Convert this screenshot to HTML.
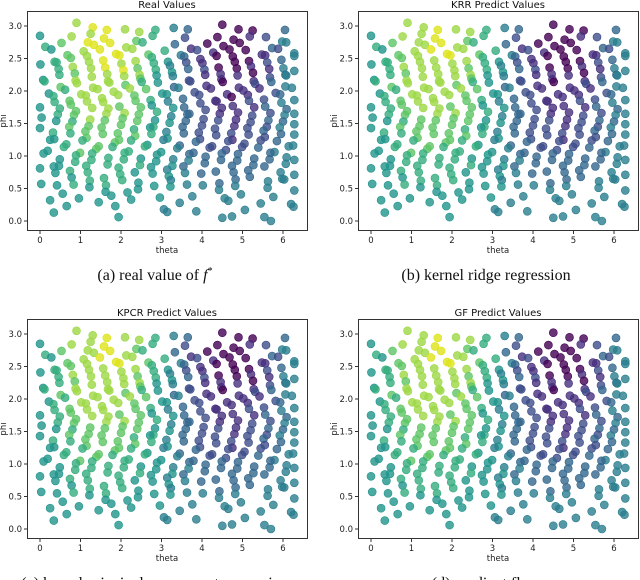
<!DOCTYPE html>
<html><head><meta charset="utf-8">
<style>
html,body{margin:0;padding:0;background:#fff;}
svg{display:block;}
.tk{font-family:"DejaVu Sans","Liberation Sans",sans-serif;font-size:8.5px;fill:#222;}
.tt{font-family:"DejaVu Sans","Liberation Sans",sans-serif;font-size:10px;fill:#111;}
.cap{font-family:"Liberation Serif",serif;font-size:16px;fill:#111;}
</style></head>
<body>
<svg id="fig" width="640" height="580" viewBox="0 0 640 580" xmlns="http://www.w3.org/2000/svg"></svg>
<script>
// base theta sets for rows
const thetaSet1 = [0.1,0.5,0.9,1.3,1.7,2.1,2.5,2.9,3.3,3.7,4.1,4.5,4.9,5.3,5.7,6.1];
const thetaSet2 = [0.3,0.7,1.1,1.5,1.9,2.3,2.7,3.1,3.5,3.9,4.3,4.7,5.1,5.5,5.9,6.25];
// per-column phi offsets
const phiOffset = [0.03,-0.04,0.05,-0.02,0.04,-0.05,0.01,0.04,-0.03,0.05,-0.04,0.02,-0.05,0.03,-0.01,0.04];
// rows: phi value, which theta set, theta shift
const rowPhi   = [3.0,2.9,2.8,2.7,2.6,2.5,2.4,2.3,2.2,2.1,2.0,1.9,1.8,1.7,1.6,1.5,1.4,1.3,1.2,1.1,1.0,0.9,0.8,0.7,0.6,0.5,0.4,0.3,0.2,0.1,0.0];
const rowSet   = [1,2,1,2,1,2,1,2,1,2,1,2,1,2,1,2,1,2,1,2,1,2,1,2,1,2,1,2,1,2,1];
const rowShift = [0,0.15,-0.12,-0.17,0.18,0.06,-0.09,0.16,-0.02,-0.19,0.12,0.03,-0.14,0.19,-0.06,0.1,-0.18,0.05,0.15,-0.11,-0.01,0.17,-0.16,0.08,-0.07,0.12,0.06,-0.05,0.16,0.04,0];
// color level (0-9) per point, '.' = no point
const realVals = [
"..89.8..4..00...","..89.86.3...0.3.","5.899.76.2.00124","67.9986.31000.34",
"5789987642100124","6789986531000134","5688987642100124","6788986532100134",
"5688887542111124","6788876532101234","5688887542111124","6788876532101234",
"5678877543211234","6788876532111234","5678877543211234","5677776532212234",
"5677776543222234","5677776532212234","5667765433222234","5677666543222344",
"5566665543333334","5666665543333344","5566.65543.33334","55666.5543.33.44",
"5.66665.44.33.44","5.55.555.444.4.4",".55.55.5.4.44.4.","5..5.5..4..4.4.4",
".5..5..4.4..4..4","5...5..4...4.4..","...........4..4."];
const krrVals = [
"..88.8..4..00...","..89.86.3...0.3.","5.889.76.2.00124","67.8986.31000.34",
"5789987642100124","6788986531000134","5688887642100124","6788886532100134",
"5688887542111124","6788876532101234","5688887542111124","6788876532111234",
"5678877543211234","6788876532111234","5677877543211234","5677776532212234",
"5677776543222234","5677776532212234","5667765433222234","5677666543222344",
"5566665543333334","5666665543333344","5566.65543.33334","55666.5543.33.44",
"5.66665.44.33.44","5.55.555.444.4.4",".55.55.5.4.44.4.","5..5.5..4..4.4.4",
".5..5..4.4..4..4","5...5..4...4.4..","...........4..4."];
const kpcrVals = krrVals.slice();
const gfVals = krrVals.slice();
const xTicks = [0,1,2,3,4,5,6];
const yTicks = [0.0,0.5,1.0,1.5,2.0,2.5,3.0];
const titles = ["Real Values","KRR Predict Values","KPCR Predict Values","GF Predict Values"];
const captions = ["(a)  real value of ","(b)  kernel ridge regression","(c)  kernel principal component regression","(d)  gradient flow"];

const viridis = ["#440154","#462f7e","#3d4d8a","#33668d","#2a7e8e","#20958b","#35ad7e","#5ec565","#9dd845","#dde318"];
const NS="http://www.w3.org/2000/svg";
const svg=document.getElementById('fig');
function mk(tag,attrs,parent){const e=document.createElementNS(NS,tag);for(const k in attrs)e.setAttribute(k,attrs[k]);parent.appendChild(e);return e;}
const xScale=t=>40+t*40.5;
const yScale=p=>221-p*65;
const panels=[{dx:0,dy:0,vals:realVals,name:'real'},{dx:331,dy:0,vals:krrVals,name:'krr'},{dx:0,dy:308,vals:kpcrVals,name:'kpcr'},{dx:331,dy:308,vals:gfVals,name:'gf'}];
panels.forEach((pn,pi)=>{
  const g=mk('g',{transform:`translate(${pn.dx},${pn.dy})`},svg);
  
  
  const t=mk('text',{x:167,y:8,'text-anchor':'middle',class:'tt'},g);t.textContent=titles[pi];
  
  
  const pts=mk('g',{},g);
  
  
  rowPhi.forEach((phi,ri)=>{
    const set=rowSet[ri]===1?thetaSet1:thetaSet2;
    const s=pn.vals[ri];
    for(let i=0;i<set.length;i++){
      const ch=s[i]; if(ch==='.'||ch===undefined) continue;
      const th=Math.max(0,Math.min(6.28,set[i]+rowShift[ri]));
      const ph=Math.max(0,Math.min(3.05,phi+phiOffset[(i+ri)%16]));
      const c=mk('circle',{cx:xScale(th).toFixed(1),cy:yScale(ph).toFixed(1),r:4,fill:viridis[+ch],'fill-opacity':0.8,stroke:viridis[+ch],'stroke-width':0.6},pts);
      
      
    }
  });
  const ax=mk('rect',{x:27.5,y:11.5,width:280,height:219,fill:'none',stroke:'#333','stroke-width':1},g);
  
  
  xTicks.forEach(v=>{
    const x=xScale(v);
    mk('line',{x1:x,x2:x,y1:231,y2:234,stroke:'#333'},g);
    const l=mk('text',{x:x,y:243,'text-anchor':'middle',class:'tk'},g);l.textContent=v;
    
    
  });
  yTicks.forEach(v=>{
    const y=yScale(v);
    mk('line',{x1:24,x2:27,y1:y,y2:y,stroke:'#333'},g);
    const l=mk('text',{x:22,y:y+3,'text-anchor':'end',class:'tk'},g);l.textContent=v.toFixed(1);
    
    
  });
  const xl=mk('text',{x:167,y:253,'text-anchor':'middle',class:'tk'},g);xl.textContent='theta';
  
  
  const yl=mk('text',{x:6,y:121,'text-anchor':'middle',class:'tk',transform:'rotate(-90 6 121)'},g);yl.textContent='phi';
  
  
  const cp=mk('text',{x:155,y:280,'text-anchor':'middle',class:'cap'},g);
  cp.textContent=captions[pi];
  if(pi===0){const f=mk('tspan',{'font-style':'italic'},cp);f.textContent='f';const st=mk('tspan',{dy:-6,'font-size':'10px'},cp);st.textContent='*';}
  
  
});
</script>
</body></html>
